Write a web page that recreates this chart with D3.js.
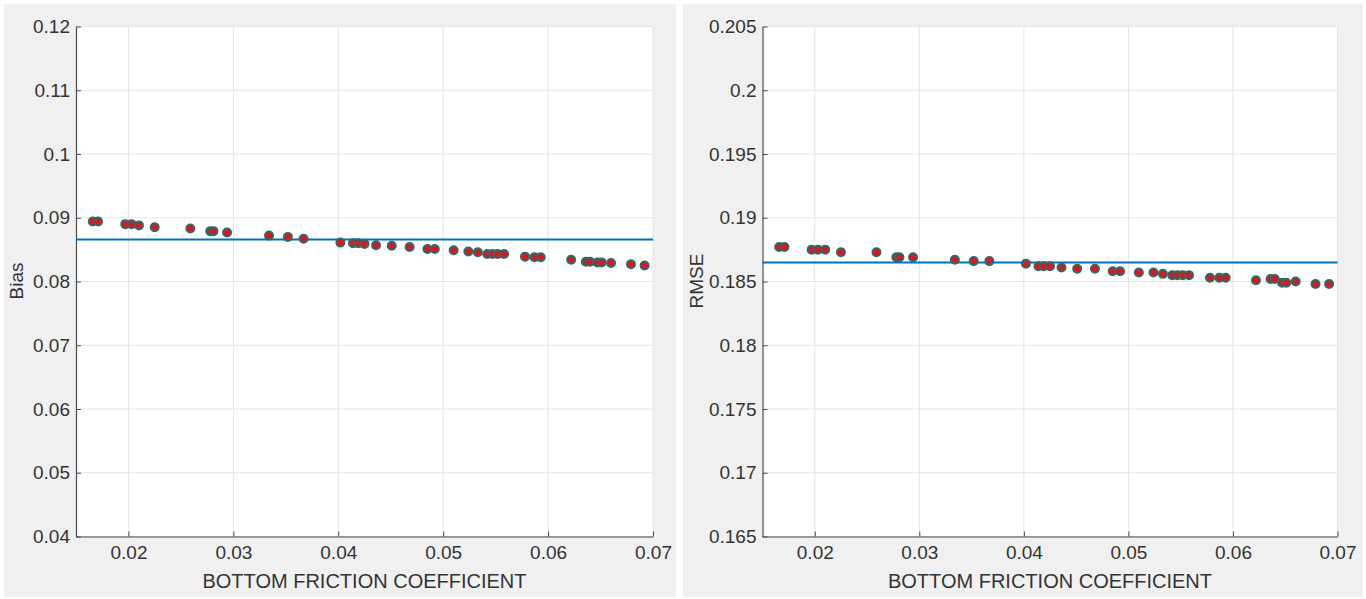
<!DOCTYPE html>
<html>
<head>
<meta charset="utf-8">
<script src="https://cdn.jsdelivr.net/npm/d3@7"></script>
<style>
  body { margin: 0; background: #fff; }
  svg { display: block; font-family: "Liberation Sans", Arial, sans-serif; }
</style>
</head>
<body>
<svg id="chart" width="1366" height="599"></svg>
<script>
// friction coefficient runs (shared by both panels)
let friction = [0.0166, 0.0171, 0.0197, 0.0203, 0.0210, 0.0225, 0.0259, 0.0278, 0.0281, 0.0294,
                0.0334, 0.0352, 0.0367, 0.0402, 0.0414, 0.0419, 0.0425, 0.0436, 0.0451, 0.0468,
                0.0485, 0.0492, 0.0510, 0.0524, 0.0533, 0.0542, 0.0547, 0.0552, 0.0558, 0.0578,
                0.0587, 0.0593, 0.0622, 0.0636, 0.0640, 0.0647, 0.0651, 0.0660, 0.0679, 0.0692];

let bias = [0.0894, 0.0894, 0.0890, 0.0890, 0.0888, 0.0885, 0.0883, 0.0879, 0.0879, 0.0877,
            0.0872, 0.0870, 0.0867, 0.0861, 0.0860, 0.0860, 0.0859, 0.0857, 0.0856, 0.0854,
            0.0851, 0.0851, 0.0849, 0.0847, 0.0846, 0.0843, 0.0843, 0.0843, 0.0843, 0.0839,
            0.0838, 0.0838, 0.0834, 0.0831, 0.0831, 0.0830, 0.0830, 0.0829, 0.0827, 0.0825];

let rmse = [0.1877, 0.1877, 0.1875, 0.1875, 0.1875, 0.1873, 0.1873, 0.1869, 0.1869, 0.1869,
            0.1867, 0.1866, 0.1866, 0.1864, 0.1862, 0.1862, 0.1862, 0.1861, 0.1860, 0.1860,
            0.1858, 0.1858, 0.1857, 0.1857, 0.1856, 0.1855, 0.1855, 0.1855, 0.1855, 0.1853,
            0.1853, 0.1853, 0.1851, 0.1852, 0.1852, 0.1849, 0.1849, 0.1850, 0.1848, 0.1848];

let biasRef = 0.0866;
let rmseRef = 0.1865;

let xTicks = [0.02, 0.03, 0.04, 0.05, 0.06, 0.07];
let biasTicks = [0.04, 0.05, 0.06, 0.07, 0.08, 0.09, 0.1, 0.11, 0.12];
let rmseTicks = [0.165, 0.17, 0.175, 0.18, 0.185, 0.19, 0.195, 0.2, 0.205];

let xLabel = "BOTTOM FRICTION COEFFICIENT";

var svg = d3.select("#chart");

function drawPanel(p) {
  // gray figure background
  svg.append("rect")
     .attr("x", p.bgX).attr("y", 4)
     .attr("width", p.bgW).attr("height", 593)
     .attr("fill", "#f0f0f0");

  var x = d3.scaleLinear().domain([0.015, 0.07]).range([p.left, p.right]);
  var y = d3.scaleLinear().domain(p.yDomain).range([536.5, 26.5]);

  svg.append("rect")
     .attr("x", p.left).attr("y", 26.5)
     .attr("width", p.right - p.left).attr("height", 510)
     .attr("fill", "#fff");

  // grid
  svg.append("g").selectAll("line")
     .data(xTicks).enter().append("line")
     .attr("x1", d => x(d)).attr("x2", d => x(d))
     .attr("y1", 26.5).attr("y2", 536.5)
     .attr("stroke", "#e4e4e4");
  svg.append("g").selectAll("line")
     .data(p.yTicks).enter().append("line")
     .attr("x1", p.left).attr("x2", p.right)
     .attr("y1", d => y(d)).attr("y2", d => y(d))
     .attr("stroke", "#e4e4e4");

  var xAxis = svg.append("g")
     .attr("transform", "translate(0,536.5)")
     .call(d3.axisBottom(x).tickValues(xTicks).tickSizeInner(-5).tickSizeOuter(0).tickPadding(9)
             .tickFormat(d3.format("~g")));
  var yAxis = svg.append("g")
     .attr("transform", "translate(" + p.left + ",0)")
     .call(d3.axisLeft(y).tickValues(p.yTicks).tickSizeInner(-5).tickSizeOuter(0).tickPadding(6)
             .tickFormat(d3.format("~g")));

  [xAxis, yAxis].forEach(a => {
    a.select(".domain").attr("stroke", "#4a4a4a").attr("stroke-width", 1.2);
    a.selectAll(".tick line").attr("stroke", "#4a4a4a");
    a.selectAll("text").attr("fill", "#333").style("font-size", "19px");
  });

  // reference line
  svg.append("line")
     .attr("x1", p.left).attr("x2", p.right)
     .attr("y1", y(p.ref)).attr("y2", y(p.ref))
     .attr("stroke", "#0072bd").attr("stroke-width", 2);

  svg.append("g").selectAll("circle")
     .data(p.values).enter().append("circle")
     .attr("cx", (d, i) => x(friction[i]))
     .attr("cy", d => y(d))
     .attr("r", 4)
     .attr("fill", "#e3121c")
     .attr("stroke", "#2f6b66")
     .attr("stroke-width", 2);

  svg.append("text")
     .attr("x", (p.left + p.right) / 2).attr("y", 588)
     .attr("text-anchor", "middle")
     .attr("fill", "#333")
     .style("font-size", "20px")
     .text(xLabel);

  svg.append("text")
     .attr("transform", "translate(" + p.yLabelX + ",281) rotate(-90)")
     .attr("text-anchor", "middle")
     .attr("fill", "#333")
     .style("font-size", "19px")
     .text(p.yLabel);
}

drawPanel({ bgX: 4, bgW: 672, left: 76, right: 653, yDomain: [0.04, 0.12], yTicks: biasTicks,
            values: bias, ref: biasRef, yLabel: "Bias", yLabelX: 23 });
drawPanel({ bgX: 683, bgW: 680, left: 762.5, right: 1337.5, yDomain: [0.165, 0.205], yTicks: rmseTicks,
            values: rmse, ref: rmseRef, yLabel: "RMSE", yLabelX: 703 });
</script>
</body>
</html>
